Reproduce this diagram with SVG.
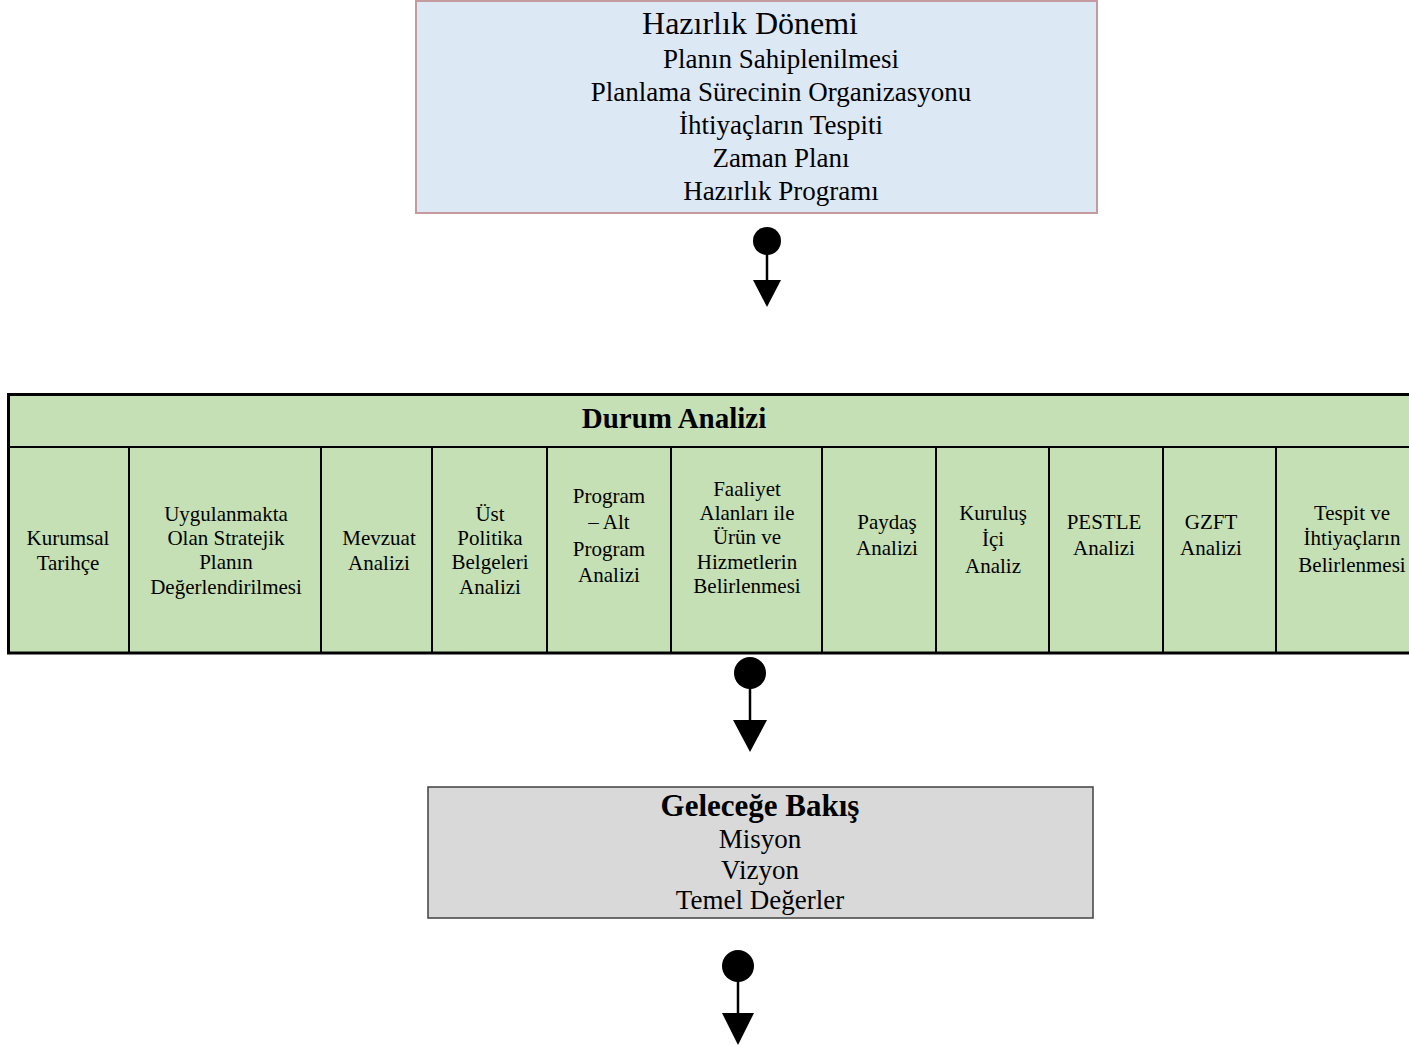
<svg xmlns="http://www.w3.org/2000/svg" width="1409" height="1046" viewBox="0 0 1409 1046">
<style>
  text { font-family: "Liberation Serif", "Times New Roman", serif; fill: #000; text-anchor: middle; }
  .title { font-size: 32px; }
  .item { font-size: 27px; }
  .hdr { font-size: 29px; font-weight: bold; }
  .cell { font-size: 21px; }
  .gtitle { font-size: 31px; font-weight: bold; }
  .gitem { font-size: 27px; }
  .col { stroke: #000; stroke-width: 2; }
  .conn line { stroke: #000; stroke-width: 2.5; }
  .conn ellipse, .conn polygon { fill: #000; }
</style>
<rect width="1409" height="1046" fill="#fff"/>

<g id="hazirlik">
  <rect x="416" y="1" width="681" height="212" fill="#dde8f5" stroke="#c49a9e" stroke-width="2"/>
  <text class="title" x="750" y="34">Hazırlık Dönemi</text>
  <text class="item" x="781" y="68">Planın Sahiplenilmesi</text>
  <text class="item" x="781" y="101">Planlama Sürecinin Organizasyonu</text>
  <text class="item" x="781" y="134">İhtiyaçların Tespiti</text>
  <text class="item" x="781" y="167">Zaman Planı</text>
  <text class="item" x="781" y="200">Hazırlık Programı</text>
</g>

<g id="durum">
  <rect x="8.5" y="394.5" width="1420" height="258.5" fill="#c5e0b4" stroke="#000" stroke-width="3"/>
  <line class="col" x1="8" y1="447" x2="1409" y2="447"/>
  <line class="col" x1="129" y1="447" x2="129" y2="653"/>
  <line class="col" x1="321" y1="447" x2="321" y2="653"/>
  <line class="col" x1="432" y1="447" x2="432" y2="653"/>
  <line class="col" x1="547" y1="447" x2="547" y2="653"/>
  <line class="col" x1="671" y1="447" x2="671" y2="653"/>
  <line class="col" x1="822" y1="447" x2="822" y2="653"/>
  <line class="col" x1="936" y1="447" x2="936" y2="653"/>
  <line class="col" x1="1049" y1="447" x2="1049" y2="653"/>
  <line class="col" x1="1163" y1="447" x2="1163" y2="653"/>
  <line class="col" x1="1276" y1="447" x2="1276" y2="653"/>
  <text class="hdr" x="674" y="428">Durum Analizi</text>

  <text class="cell" x="68" y="545">Kurumsal</text>
  <text class="cell" x="68" y="570">Tarihçe</text>

  <text class="cell" x="226" y="521">Uygulanmakta</text>
  <text class="cell" x="226" y="545">Olan Stratejik</text>
  <text class="cell" x="226" y="569">Planın</text>
  <text class="cell" x="226" y="594">Değerlendirilmesi</text>

  <text class="cell" x="379" y="545">Mevzuat</text>
  <text class="cell" x="379" y="570">Analizi</text>

  <text class="cell" x="490" y="521">Üst</text>
  <text class="cell" x="490" y="545">Politika</text>
  <text class="cell" x="490" y="569">Belgeleri</text>
  <text class="cell" x="490" y="594">Analizi</text>

  <text class="cell" x="609" y="503">Program</text>
  <text class="cell" x="609" y="529">– Alt</text>
  <text class="cell" x="609" y="556">Program</text>
  <text class="cell" x="609" y="582">Analizi</text>

  <text class="cell" x="747" y="496">Faaliyet</text>
  <text class="cell" x="747" y="520">Alanları ile</text>
  <text class="cell" x="747" y="544">Ürün ve</text>
  <text class="cell" x="747" y="569">Hizmetlerin</text>
  <text class="cell" x="747" y="593">Belirlenmesi</text>

  <text class="cell" x="887" y="529">Paydaş</text>
  <text class="cell" x="887" y="555">Analizi</text>

  <text class="cell" x="993" y="520">Kuruluş</text>
  <text class="cell" x="993" y="546">İçi</text>
  <text class="cell" x="993" y="573">Analiz</text>

  <text class="cell" x="1104" y="529">PESTLE</text>
  <text class="cell" x="1104" y="555">Analizi</text>

  <text class="cell" x="1211" y="529">GZFT</text>
  <text class="cell" x="1211" y="555">Analizi</text>

  <text class="cell" x="1352" y="520">Tespit ve</text>
  <text class="cell" x="1352" y="545">İhtiyaçların</text>
  <text class="cell" x="1352" y="572">Belirlenmesi</text>
</g>

<g id="gelecege">
  <rect x="428" y="787" width="665" height="131" fill="#d9d9d9" stroke="#404040" stroke-width="1.5"/>
  <text class="gtitle" x="760" y="816">Geleceğe Bakış</text>
  <text class="gitem" x="760" y="848">Misyon</text>
  <text class="gitem" x="760" y="879">Vizyon</text>
  <text class="gitem" x="760" y="909">Temel Değerler</text>
</g>

<g id="connectors" class="conn">
  <ellipse cx="767" cy="241" rx="14" ry="14"/>
  <line x1="767" y1="250" x2="767" y2="284"/>
  <polygon points="753,280 781,280 767,307"/>

  <ellipse cx="750" cy="673" rx="16" ry="16"/>
  <line x1="750" y1="684" x2="750" y2="724"/>
  <polygon points="733,720 767,720 750,752"/>

  <ellipse cx="738" cy="966" rx="16" ry="16"/>
  <line x1="738" y1="977" x2="738" y2="1017"/>
  <polygon points="722,1013 754,1013 738,1045"/>
</g>
</svg>
